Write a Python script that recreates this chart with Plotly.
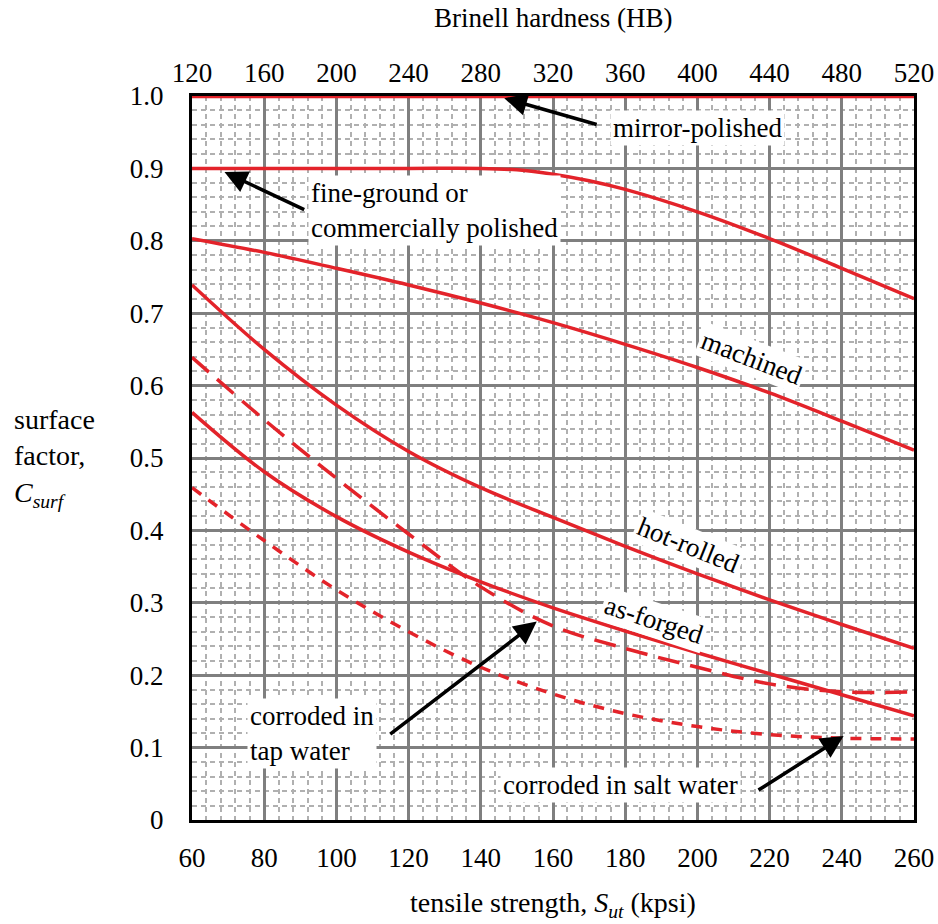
import plotly.graph_objects as go

# ---- data ----
sut = [60, 80, 100, 120, 140, 160, 180, 200, 220, 240, 260]

mirror = [1.0] * len(sut)
fine_x = [60, 80, 100, 120, 140, 150, 160, 170, 180, 200, 220, 240, 260]
fine_y = [0.9, 0.9, 0.9, 0.9, 0.9, 0.898, 0.892, 0.883, 0.871, 0.84, 0.803, 0.762, 0.72]
machined = [0.803, 0.784, 0.762, 0.739, 0.714, 0.687, 0.657, 0.625, 0.590, 0.551, 0.511]
hot_rolled = [0.739, 0.650, 0.573, 0.509, 0.459, 0.418, 0.378, 0.340, 0.304, 0.270, 0.237]
as_forged = [0.563, 0.481, 0.419, 0.370, 0.329, 0.293, 0.261, 0.231, 0.202, 0.173, 0.144]
tap_water = [0.639, 0.553, 0.472, 0.395, 0.322, 0.268, 0.237, 0.211, 0.188, 0.177, 0.177]
salt_water = [0.459, 0.386, 0.318, 0.260, 0.211, 0.174, 0.147, 0.129, 0.118, 0.113, 0.112]

x_ticks = [60, 80, 100, 120, 140, 160, 180, 200, 220, 240, 260]
hb_ticks = [120, 160, 200, 240, 280, 320, 360, 400, 440, 480, 520]
y_ticks = [0, 0.1, 0.2, 0.3, 0.4, 0.5, 0.6, 0.7, 0.8, 0.9, 1.0]
y_tick_text = ["0", "0.1", "0.2", "0.3", "0.4", "0.5", "0.6", "0.7", "0.8", "0.9", "1.0"]

RED = "#e3232a"
FONT = "Liberation Serif, Times New Roman, serif"

fig = go.Figure()

def add(x, y, dash="solid", width=3.5):
    fig.add_trace(go.Scatter(x=x, y=y, mode="lines",
                             line=dict(color=RED, width=width, dash=dash, shape="spline", smoothing=1.0),
                             hoverinfo="skip", showlegend=False, cliponaxis=False))

add(sut, mirror, width=4.5)
add(fine_x, fine_y)
add(sut, machined)
add(sut, hot_rolled)
add(sut, as_forged)
add(sut, tap_water, dash="22px,11px")
add(sut, salt_water, dash="11px,9px")

# invisible trace to drive the top (Brinell) axis
fig.add_trace(go.Scatter(x=[hb_ticks[0], hb_ticks[-1]], y=[0, 0], xaxis="x2", mode="markers",
                         marker=dict(opacity=0), hoverinfo="skip", showlegend=False))

grid_major = "#7f7f7f"
grid_minor = "#b0b0b0"

fig.update_layout(
    width=938, height=924,
    margin=dict(l=192, r=24, t=96, b=104, autoexpand=False),
    paper_bgcolor="white", plot_bgcolor="white",
    font=dict(family=FONT, size=27, color="black"),
    xaxis=dict(range=[60, 260], tickvals=x_ticks, ticks="", showgrid=True,
               gridcolor=grid_major, gridwidth=2.5,
               minor=dict(dtick=4, showgrid=True, gridcolor=grid_minor, gridwidth=1.5, griddash="5px,4px"),
               showline=True, linecolor="black", linewidth=3, mirror=True,
               ticklabelstandoff=12, zeroline=False, automargin=False),
    xaxis2=dict(range=[120, 520], tickvals=hb_ticks, overlaying="x", side="top",
                showgrid=False, ticks="", showline=False, zeroline=False,
                ticklabelstandoff=8, automargin=False),
    yaxis=dict(range=[0, 1.0], tickvals=y_ticks, ticktext=y_tick_text, ticks="",
               showgrid=True, gridcolor=grid_major, gridwidth=2.5,
               minor=dict(dtick=0.02, showgrid=True, gridcolor=grid_minor, gridwidth=1.5, griddash="5px,4px"),
               showline=True, linecolor="black", linewidth=3, mirror=True,
               ticklabelstandoff=20, zeroline=False, automargin=False),
)

ann_font = dict(family=FONT, size=27, color="black")

def label(x, y, text, angle=0, align="center", xanchor="center"):
    fig.add_annotation(x=x, y=y, text=text, showarrow=False, textangle=angle,
                       bgcolor="white", font=ann_font, align=align, xanchor=xanchor,
                       borderpad=2)

def arrow(x0, y0, x1, y1):
    fig.add_annotation(x=x1, y=y1, ax=x0, ay=y0, xref="x", yref="y", axref="x", ayref="y",
                       text="", showarrow=True, arrowhead=2, arrowsize=1.3, arrowwidth=3.5,
                       arrowcolor="black")

label(200, 0.956, "mirror-polished")
arrow(172.5, 0.960, 146.5, 0.997)

label(92.2, 0.8425, "fine-ground or<br>commercially polished", align="left", xanchor="left")
arrow(91.5, 0.842, 69.0, 0.895)

label(215, 0.638, "machined", angle=21)
label(197.4, 0.380, "hot-rolled", angle=22)
label(188, 0.276, "as-forged", angle=18)

label(75.2, 0.119, "corroded in<br>tap water", align="left", xanchor="left")
arrow(114.5, 0.117, 155.5, 0.274)

label(178.6, 0.048, "corroded in salt water")
arrow(216.5, 0.040, 240.5, 0.116)

# axis titles placed as paper-referenced text
fig.add_annotation(xref="paper", yref="paper", x=0.5, y=1.1077, xanchor="center", yanchor="middle",
                   text="Brinell hardness (HB)", showarrow=False, font=dict(family=FONT, size=27))
fig.add_annotation(xref="paper", yref="paper", x=0.5, y=-0.1174, xanchor="center", yanchor="middle",
                   text="tensile strength, <i>S<sub>ut</sub></i> (kpsi)", showarrow=False,
                   font=dict(family=FONT, size=28))
fig.add_annotation(xref="paper", yref="paper", x=-0.2493, y=0.5, xanchor="left", yanchor="middle",
                   text="surface<br>factor,<br><i>C<sub>surf</sub></i>", showarrow=False,
                   align="left", font=dict(family=FONT, size=28, color="black"))

fig.write_html("out.html", config={"displayModeBar": False},
               post_script="document.body.style.margin='0';")
